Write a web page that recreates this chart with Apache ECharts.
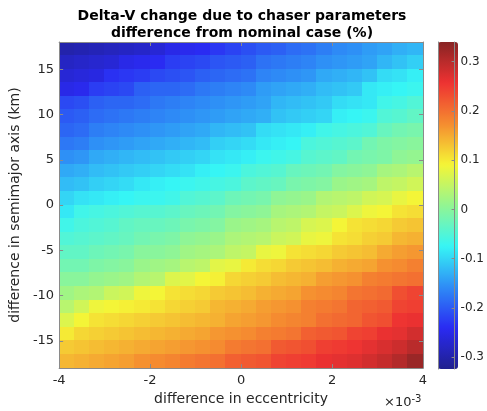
<!DOCTYPE html>
<html>
<head>
<meta charset="utf-8">
<script src="https://cdn.jsdelivr.net/npm/echarts@6/dist/echarts.min.js"></script>
<style>html,body{margin:0;padding:0;background:#fff}#c{width:487px;height:411px}</style>
</head>
<body>
<div id="c"></div>
<script>
// eccentricity difference (x1e-3), cell centres, 24 columns
var xCenters = [-3.833,-3.5,-3.167,-2.833,-2.5,-2.167,-1.833,-1.5,-1.167,-0.833,-0.5,-0.167,0.167,0.5,0.833,1.167,1.5,1.833,2.167,2.5,2.833,3.167,3.5,3.833];
// semimajor axis difference (km), cell centres, top row first
var yCenters = [17.25,15.75,14.25,12.75,11.25,9.75,8.25,6.75,5.25,3.75,2.25,0.75,-0.75,-2.25,-3.75,-5.25,-6.75,-8.25,-9.75,-11.25,-12.75,-14.25,-15.75,-17.25];
var xTicks = [-4,-2,0,2,4];
var yTicks = [-15,-10,-5,0,5,10,15];
var cbTicks = [-0.3,-0.2,-0.1,0,0.1,0.2,0.3];
var cMin = -0.324, cMax = 0.340;
// delta-V difference (%), rows from top (y=17.25) to bottom (y=-17.25)
var r0  = [-0.30,-0.295,-0.29,-0.285,-0.28,-0.275,-0.265,-0.25,-0.245,-0.24,-0.23,-0.22,-0.21,-0.2,-0.195,-0.185,-0.18,-0.17,-0.16,-0.155,-0.145,-0.14,-0.13,-0.125];
var r1  = [-0.28,-0.275,-0.27,-0.265,-0.25,-0.245,-0.24,-0.225,-0.22,-0.215,-0.205,-0.2,-0.195,-0.18,-0.175,-0.17,-0.165,-0.155,-0.15,-0.145,-0.14,-0.125,-0.115,-0.105];
var r2  = [-0.265,-0.26,-0.255,-0.235,-0.23,-0.225,-0.215,-0.21,-0.205,-0.195,-0.19,-0.185,-0.18,-0.165,-0.16,-0.155,-0.15,-0.135,-0.13,-0.125,-0.115,-0.095,-0.09,-0.08];
var r3  = [-0.25,-0.245,-0.225,-0.22,-0.215,-0.195,-0.19,-0.19,-0.185,-0.175,-0.17,-0.165,-0.16,-0.145,-0.14,-0.135,-0.13,-0.12,-0.115,-0.11,-0.085,-0.08,-0.075,-0.07];
var r4  = [-0.215,-0.21,-0.195,-0.19,-0.19,-0.185,-0.175,-0.17,-0.165,-0.16,-0.155,-0.15,-0.145,-0.14,-0.125,-0.12,-0.115,-0.11,-0.095,-0.09,-0.085,-0.065,-0.06,-0.05];
var r5  = [-0.2,-0.195,-0.185,-0.18,-0.175,-0.17,-0.165,-0.16,-0.155,-0.15,-0.145,-0.14,-0.135,-0.13,-0.115,-0.11,-0.105,-0.1,-0.08,-0.075,-0.07,-0.05,-0.045,-0.035];
var r6  = [-0.19,-0.185,-0.17,-0.165,-0.16,-0.155,-0.15,-0.145,-0.14,-0.135,-0.125,-0.12,-0.115,-0.095,-0.09,-0.085,-0.08,-0.065,-0.06,-0.055,-0.05,-0.03,-0.02,-0.015];
var r7  = [-0.175,-0.17,-0.155,-0.15,-0.145,-0.14,-0.135,-0.13,-0.125,-0.12,-0.105,-0.1,-0.095,-0.085,-0.08,-0.075,-0.055,-0.05,-0.045,-0.04,-0.02,-0.01,-0.005,0.0];
var r8  = [-0.155,-0.15,-0.135,-0.13,-0.125,-0.12,-0.115,-0.11,-0.105,-0.1,-0.09,-0.085,-0.08,-0.07,-0.065,-0.06,-0.045,-0.04,-0.035,-0.02,-0.015,-0.01,0.005,0.01];
var r9  = [-0.135,-0.13,-0.12,-0.115,-0.11,-0.105,-0.1,-0.095,-0.09,-0.08,-0.075,-0.07,-0.055,-0.05,-0.045,-0.03,-0.025,-0.02,-0.005,0.0,0.005,0.025,0.03,0.04];
var r10 = [-0.12,-0.115,-0.105,-0.1,-0.095,-0.085,-0.08,-0.075,-0.07,-0.065,-0.06,-0.055,-0.04,-0.035,-0.03,-0.015,-0.01,-0.005,0.015,0.02,0.025,0.045,0.05,0.06];
var r11 = [-0.1,-0.09,-0.085,-0.08,-0.075,-0.07,-0.07,-0.065,-0.05,-0.045,-0.04,-0.025,-0.02,-0.015,0.005,0.01,0.015,0.035,0.04,0.045,0.06,0.065,0.08,0.09];
var r12 = [-0.085,-0.065,-0.06,-0.055,-0.05,-0.045,-0.045,-0.04,-0.03,-0.025,-0.02,-0.005,0.0,0.005,0.025,0.03,0.035,0.05,0.055,0.07,0.085,0.09,0.105,0.11];
var r13 = [-0.065,-0.055,-0.05,-0.045,-0.035,-0.03,-0.03,-0.025,-0.015,-0.01,-0.005,0.015,0.02,0.025,0.04,0.045,0.065,0.07,0.09,0.105,0.11,0.115,0.125,0.13];
var r14 = [-0.05,-0.045,-0.04,-0.035,-0.03,-0.02,-0.015,-0.01,0.005,0.01,0.015,0.03,0.035,0.04,0.055,0.06,0.08,0.085,0.105,0.11,0.12,0.125,0.14,0.145];
var r15 = [-0.035,-0.035,-0.025,-0.02,-0.015,0.0,0.0,0.005,0.02,0.025,0.03,0.045,0.05,0.08,0.085,0.105,0.11,0.115,0.125,0.13,0.135,0.15,0.16,0.165];
var r16 = [-0.02,-0.02,-0.01,-0.005,0.0,0.015,0.02,0.025,0.04,0.045,0.075,0.08,0.1,0.11,0.115,0.125,0.13,0.135,0.145,0.15,0.155,0.17,0.175,0.185];
var r17 = [0.0,0.0,0.01,0.015,0.02,0.035,0.04,0.07,0.075,0.09,0.095,0.115,0.12,0.125,0.135,0.14,0.145,0.16,0.165,0.17,0.185,0.19,0.195,0.2];
var r18 = [0.02,0.03,0.035,0.055,0.06,0.085,0.09,0.105,0.11,0.115,0.125,0.13,0.135,0.145,0.15,0.155,0.17,0.175,0.18,0.195,0.2,0.205,0.23,0.24];
var r19 = [0.04,0.06,0.085,0.09,0.095,0.1,0.105,0.115,0.12,0.125,0.14,0.145,0.15,0.16,0.165,0.17,0.185,0.19,0.195,0.21,0.215,0.22,0.24,0.245];
var r20 = [0.07,0.09,0.105,0.11,0.115,0.12,0.125,0.13,0.135,0.14,0.145,0.155,0.16,0.165,0.175,0.18,0.185,0.2,0.205,0.21,0.225,0.23,0.255,0.26];
var r21 = [0.1,0.115,0.12,0.125,0.13,0.135,0.14,0.145,0.15,0.155,0.165,0.17,0.175,0.185,0.19,0.195,0.215,0.22,0.225,0.24,0.245,0.26,0.265,0.28];
var r22 = [0.125,0.13,0.135,0.14,0.145,0.15,0.155,0.16,0.165,0.17,0.175,0.19,0.195,0.2,0.22,0.225,0.23,0.245,0.25,0.255,0.265,0.275,0.285,0.3];
var r23 = [0.14,0.145,0.15,0.155,0.16,0.17,0.175,0.18,0.19,0.195,0.2,0.215,0.22,0.225,0.24,0.245,0.25,0.26,0.265,0.27,0.28,0.29,0.305,0.325];
var rows = [r0,r1,r2,r3,r4,r5,r6,r7,r8,r9,r10,r11,r12,r13,r14,r15,r16,r17,r18,r19,r20,r21,r22,r23];

var data = [];
for (var j = 0; j < rows.length; j++) {
  for (var i = 0; i < xCenters.length; i++) {
    data.push([xCenters[i], yCenters[j], rows[j][i]]);
  }
}
var dx = xCenters[1] - xCenters[0];
var dy = yCenters[0] - yCenters[1];

var jet = ['#20208E','#2A2AF2','#2E8CF6','#36F5F5','#92F592','#F5F536','#F58C30','#EE3232','#882424'];
var axisColor = '#8a8a8a';
var txt = '#262626';
var font = 'DejaVu Sans';
var line = {show: true, onZero: false, lineStyle: {color: axisColor}};

var chart = echarts.init(document.getElementById('c'), null, {renderer: 'canvas'});
chart.setOption({
  animation: false,
  backgroundColor: '#fff',
  title: {
    text: 'Delta-V change due to chaser parameters\ndifference from nominal case (%)',
    left: 237, top: 3, textAlign: 'center',
    textStyle: {fontFamily: font, fontSize: 14, fontWeight: 'bold', color: '#000', lineHeight: 17}
  },
  grid: [
    {left: 52, top: 42, width: 371, height: 327, show: false},
    {left: 438, top: 42, width: 20, height: 327, show: false}
  ],
  xAxis: [
    {type: 'value', gridIndex: 0, min: -4, max: 4, interval: 2, position: 'bottom', z: 5,
     name: 'difference in eccentricity', nameLocation: 'middle', nameGap: 23,
     nameTextStyle: {fontFamily: font, fontSize: 14, color: txt},
     axisLine: line,
     axisTick: {inside: true, length: 4, lineStyle: {color: axisColor}},
     axisLabel: {fontFamily: font, fontSize: 13, color: txt, margin: 6, customValues: xTicks},
     splitLine: {show: false}},
    {type: 'value', gridIndex: 0, min: -4, max: 4, interval: 2, position: 'top', z: 5,
     axisLine: line,
     axisTick: {inside: true, length: 4, lineStyle: {color: axisColor}},
     axisLabel: {show: false}, splitLine: {show: false}},
    {type: 'value', gridIndex: 1, min: 0, max: 1, show: false}
  ],
  yAxis: [
    {type: 'value', gridIndex: 0, min: -18, max: 18, position: 'left', z: 5,
     name: 'difference in semimajor axis (km)', nameLocation: 'middle', nameGap: 30,
     nameTextStyle: {fontFamily: font, fontSize: 14, color: txt},
     axisLine: line,
     axisTick: {inside: true, length: 4, lineStyle: {color: axisColor}, customValues: yTicks},
     axisLabel: {fontFamily: font, fontSize: 13, color: txt, margin: 5, customValues: yTicks},
     splitLine: {show: false}},
    {type: 'value', gridIndex: 0, min: -18, max: 18, position: 'right', z: 5,
     axisLine: line,
     axisTick: {inside: true, length: 4, lineStyle: {color: axisColor}, customValues: yTicks},
     axisLabel: {show: false}, splitLine: {show: false}},
    {type: 'value', gridIndex: 1, min: cMin, max: cMax, position: 'right', z: 5,
     axisLine: line,
     axisTick: {inside: true, length: 3, lineStyle: {color: axisColor}, customValues: cbTicks},
     axisLabel: {fontFamily: font, fontSize: 12, color: txt, margin: 6, customValues: cbTicks,
       formatter: function (v) { return (Math.round(v * 10) / 10).toString(); }},
     splitLine: {show: false}},
    {type: 'value', gridIndex: 1, min: cMin, max: cMax, position: 'left', z: 5,
     axisLine: line,
     axisTick: {show: false}, axisLabel: {show: false}, splitLine: {show: false}}
  ],
  visualMap: {
    type: 'continuous', seriesIndex: 0, min: cMin, max: cMax, dimension: 2,
    calculable: false, realtime: false, text: null, showLabel: false,
    itemWidth: 20, itemHeight: 327, left: 438, top: 42, padding: 0,
    inRange: {color: jet}, hoverLink: false
  },
  series: [{
    type: 'custom', xAxisIndex: 0, yAxisIndex: 0, clip: true,
    renderItem: function (params, api) {
      var p0 = api.coord([api.value(0) - dx / 2, api.value(1) + dy / 2]);
      var p1 = api.coord([api.value(0) + dx / 2, api.value(1) - dy / 2]);
      var x0 = Math.floor(p0[0]), y0 = Math.floor(p0[1]);
      var x1 = Math.ceil(p1[0]), y1 = Math.ceil(p1[1]);
      return {
        type: 'rect',
        shape: {x: x0, y: y0, width: x1 - x0, height: y1 - y0},
        style: {fill: api.visual('color')}
      };
    },
    encode: {x: 0, y: 1},
    data: data,
    z: 1
  }],
  graphic: [{
    type: 'text', left: 384, top: 394, z: 10,
    style: {
      text: '×10{s|-3}', fontFamily: font, fontSize: 13, fill: txt,
      rich: {s: {fontSize: 10, fontFamily: font, fill: txt, verticalAlign: 'top', padding: [0, 0, 8, 0]}}
    }
  }]
});
</script>
</body>
</html>
